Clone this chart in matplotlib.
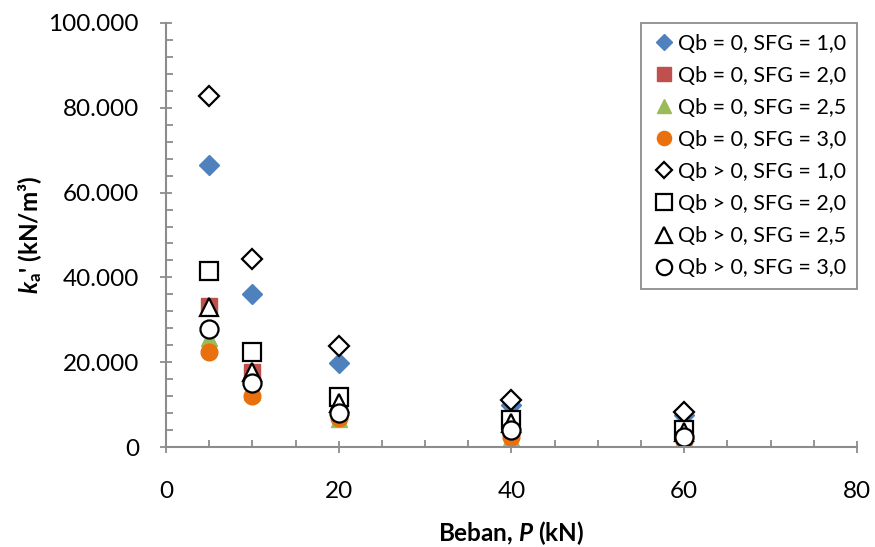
import matplotlib
matplotlib.use("Agg")
import matplotlib.pyplot as plt
from matplotlib.ticker import MultipleLocator, FuncFormatter

plt.rcParams['font.family'] = ['Lato', 'DejaVu Sans']
plt.rcParams['mathtext.fontset'] = 'custom'
plt.rcParams['mathtext.rm'] = 'Lato'
plt.rcParams['mathtext.bf'] = 'Lato:bold'
plt.rcParams['mathtext.it'] = 'Lato:italic'
plt.rcParams['mathtext.bfit'] = 'Lato:bold:italic'

# beban P (kN)
beban = [5, 10, 20, 40, 60]

# ka' (kN/m3) per seri
qb0_sfg10 = [66500, 36100, 19800, 9900, 7500]
qb0_sfg20 = [33300, 17700, 9500, 4800, 3300]
qb0_sfg25 = [25600, 12900, 6600, 2200, 1400]
qb0_sfg30 = [22400, 12000, 6800, 2400, 1300]
qbp_sfg10 = [82800, 44300, 23800, 11100, 8200]
qbp_sfg20 = [41500, 22300, 11900, 6400, 4000]
qbp_sfg25 = [33100, 17700, 10300, 5600, 3600]
qbp_sfg30 = [27800, 15000, 8100, 4000, 2400]

labels = ["Qb = 0, SFG = 1,0", "Qb = 0, SFG = 2,0", "Qb = 0, SFG = 2,5", "Qb = 0, SFG = 3,0",
          "Qb > 0, SFG = 1,0", "Qb > 0, SFG = 2,0", "Qb > 0, SFG = 2,5", "Qb > 0, SFG = 3,0"]

fig = plt.figure(figsize=(8.75, 5.47), dpi=100)
ax = fig.add_axes([0.1897, 0.1828, 0.7897, 0.7752])

ax.plot(beban, qb0_sfg10, ls='none', marker='D', ms=10, color='#4F81BD', mec='#4F81BD', label=labels[0])
ax.plot(beban, qb0_sfg20, ls='none', marker='s', ms=12, color='#C0504D', mec='#C0504D', label=labels[1])
ax.plot(beban, qb0_sfg25, ls='none', marker='^', ms=12, color='#9BBB59', mec='#9BBB59', label=labels[2])
ax.plot(beban, qb0_sfg30, ls='none', marker='o', ms=12, color='#E8700E', mec='#E8700E', label=labels[3])
ax.plot(beban, qbp_sfg10, ls='none', marker='D', ms=10, mfc='white', mec='black', mew=1.6, label=labels[4])
ax.plot(beban, qbp_sfg20, ls='none', marker='s', ms=13, mfc='white', mec='black', mew=1.6, label=labels[5])
ax.plot(beban, qbp_sfg25, ls='none', marker='^', ms=13, mfc='white', mec='black', mew=1.6, label=labels[6])
ax.plot(beban, qbp_sfg30, ls='none', marker='o', ms=13, mfc='white', mec='black', mew=1.6, label=labels[7])

ax.set_xlim(0, 80)
ax.set_ylim(0, 100000)
ax.xaxis.set_major_locator(MultipleLocator(20))
ax.xaxis.set_minor_locator(MultipleLocator(5))
ax.yaxis.set_major_locator(MultipleLocator(20000))
ax.yaxis.set_minor_locator(MultipleLocator(4000))
ax.yaxis.set_major_formatter(FuncFormatter(lambda v, p: f"{int(v):,}".replace(',', '.')))

for s in ['top', 'right']:
    ax.spines[s].set_visible(False)
for s in ['left', 'bottom']:
    ax.spines[s].set_color('#8C8C8C')
    ax.spines[s].set_linewidth(1.5)
ax.tick_params(which='major', direction='inout', length=9, width=1.3, color='#8C8C8C', labelsize=17.5)
ax.tick_params(which='minor', direction='in', length=5, width=1.3, color='#8C8C8C')
ax.tick_params(axis='x', which='major', pad=20)
ax.tick_params(axis='y', which='major', pad=15)

ax.set_xlabel(r"Beban, $\mathbfit{P}$ (kN)", fontsize=17.5, fontweight='bold', labelpad=12)
ax.set_ylabel(r"$\mathbfit{k}_\mathbf{a}$' (kN/m³)", fontsize=17.5, fontweight='bold', labelpad=3)

leg = ax.legend(loc='upper right', fontsize=15.5, frameon=True, fancybox=False, framealpha=1,
                edgecolor='#8C8C8C', handletextpad=0.1, handlelength=1.1, labelspacing=0.56,
                borderaxespad=0, markerscale=0.85, borderpad=0.5)
leg.get_frame().set_linewidth(1.3)

fig.savefig("out.png", dpi=100)
